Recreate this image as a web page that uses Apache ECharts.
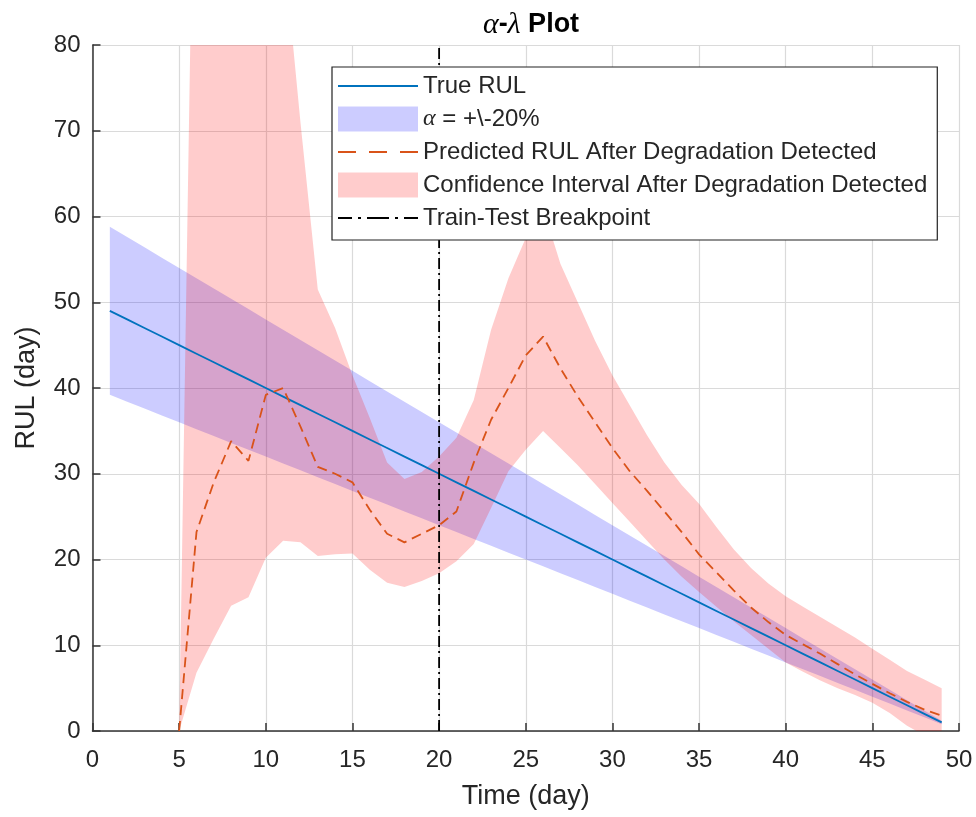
<!DOCTYPE html>
<html>
<head>
<meta charset="utf-8">
<script src="https://cdn.jsdelivr.net/npm/echarts@6/dist/echarts.min.js"></script>
<style>
html,body{margin:0;padding:0;background:#fff;}
#chart{width:976px;height:817px;}
</style>
</head>
<body>
<div id="chart"></div>
<script>
// ---- data ----
var trueDays = [1,2,3,4,5,6,7,8,9,10,11,12,13,14,15,16,17,18,19,20,21,22,23,24,25,26,27,28,29,30,31,32,33,34,35,36,37,38,39,40,41,42,43,44,45,46,47,48,49];
var trueRUL = [49,48,47,46,45,44,43,42,41,40,39,38,37,36,35,34,33,32,31,30,29,28,27,26,25,24,23,22,21,20,19,18,17,16,15,14,13,12,11,10,9,8,7,6,5,4,3,2,1];
var alphaUpper = [58.8,57.6,56.4,55.2,54,52.8,51.6,50.4,49.2,48,46.8,45.6,44.4,43.2,42,40.8,39.6,38.4,37.2,36,34.8,33.6,32.4,31.2,30,28.8,27.6,26.4,25.2,24,22.8,21.6,20.4,19.2,18,16.8,15.6,14.4,13.2,12,10.8,9.6,8.4,7.2,6,4.8,3.6,2.4,1.2];
var alphaLower = [39.2,38.4,37.6,36.8,36,35.2,34.4,33.6,32.8,32,31.2,30.4,29.6,28.8,28,27.2,26.4,25.6,24.8,24,23.2,22.4,21.6,20.8,20,19.2,18.4,17.6,16.8,16,15.2,14.4,13.6,12.8,12,11.2,10.4,9.6,8.8,8,7.2,6.4,5.6,4.8,4,3.2,2.4,1.6,0.8];

var predDays = [5,6,7,8,9,10,11,12,13,14,15,16,17,18,19,20,21,22,23,24,25,26,27,28,29,30,31,32,33,34,35,36,37,38,39,40,41,42,43,44,45,46,47,48,49];
var predRUL = [0,23.2,29,33.8,31.5,39.2,40,35.5,30.8,30,29,25.8,23,22,23,24,25.6,31.3,36.3,40,43.8,46,42.3,39,36,33,30.3,28,25.6,23.2,20.6,18.5,16.4,14.4,12.7,11.2,10.1,9,7.8,6.6,5.5,4.4,3.4,2.5,1.8];
var ciUpper = [0,125,150,155,145,120,92,71,51.5,47,41.5,36.5,31.3,29.4,30.2,32,34.2,38.6,46.8,52.8,57.5,61,54.5,50,45.5,41.5,38,34.5,31.3,28.7,26.5,23.8,21.2,19,17.2,15.7,14.5,13.3,12.1,10.9,9.6,8.3,7,6,5];
var ciLower = [0,6.8,10.8,14.6,15.6,20.2,22.2,22,20.4,20.6,20.7,18.8,17.3,16.8,17.5,18.4,19.8,21.8,26,30.3,32.8,35,33,31,28.8,26.6,24.4,22.2,20,18,16.2,14.5,12.8,11.2,9.6,8,6.9,5.9,5,4.2,3.3,2.1,0.6,-0.5,-1.2];

var breakpointDay = [20, 20];
var breakpointRange = [0, 80];

var xTicks = {min: 0, max: 50, step: 5};
var yTicks = {min: 0, max: 80, step: 10};

var nameTrue = 'True RUL';
var nameAlpha = 'α = +\\-20%';
var namePred = 'Predicted RUL After Degradation Detected';
var nameCI = 'Confidence Interval After Degradation Detected';
var nameBreak = 'Train-Test Breakpoint';

// ---- build ----
function zip(xs, ys){ return xs.map(function(x,i){ return [x, ys[i]]; }); }
function zip3(xs, a, b){ return xs.map(function(x,i){ return [x, a[i], b[i]]; }); }

// band polygon drawn through the axes' scales (api.coord)
function bandRenderer(xs, lo, hi, fill){
  return function(params, api){
    if (params.dataIndex !== 0) return null;
    var pts = [], i;
    for (i = 0; i < xs.length; i++) pts.push(api.coord([xs[i], hi[i]]));
    for (i = xs.length - 1; i >= 0; i--) pts.push(api.coord([xs[i], lo[i]]));
    var cs = params.coordSys;
    return {
      type: 'polygon',
      shape: {points: pts},
      style: {fill: fill, stroke: null},
      clipPath: {type: 'rect', shape: {x: cs.x, y: cs.y, width: cs.width, height: cs.height}}
    };
  };
}

var TXT = '#262626';
var FONT = 'Liberation Sans';
var BLUE_FILL = 'rgba(0,0,255,0.2)';
var RED_FILL = 'rgba(255,0,0,0.2)';

var iconSolid = 'path://M0,0H80V1.8H0Z';
var iconDash = 'path://M0,0H18V1.8H0Z M31,0H49V1.8H31Z M62,0H80V1.8H62Z';
var iconDashDot = 'path://M0,0H14V1.8H0Z M20,0H23V1.8H20Z M29,0H51V1.8H29Z M57,0H60V1.8H57Z M66,0H80V1.8H66Z';

var chart = echarts.init(document.getElementById('chart'), null, {renderer: 'canvas'});
chart.setOption({
  animation: false,
  backgroundColor: '#fff',
  title: {
    text: '{g|α}{b|-}{g|λ}{b| Plot}',
    left: 526, top: 5, textAlign: 'center',
    textStyle: {
      rich: {
        g: {fontFamily: 'Liberation Serif', fontStyle: 'italic', fontWeight: 'normal', fontSize: 30, color: '#000'},
        b: {fontFamily: FONT, fontWeight: 'bold', fontSize: 27, color: '#000'}
      }
    }
  },
  grid: {left: 92.5, right: 17, top: 45, bottom: 86, containLabel: false},
  xAxis: {
    type: 'value', min: xTicks.min, max: xTicks.max, interval: xTicks.step,
    name: 'Time (day)', nameLocation: 'middle', nameGap: 52,
    nameTextStyle: {fontFamily: FONT, fontSize: 27, color: TXT},
    axisLine: {show: true, onZero: false, lineStyle: {color: '#333', width: 1.5}},
    axisTick: {show: true, inside: true, length: 8, lineStyle: {color: '#333', width: 1.5}},
    axisLabel: {fontFamily: FONT, fontSize: 24, color: TXT, margin: 17},
    splitLine: {show: true, lineStyle: {color: '#dadada', width: 1.2}}
  },
  yAxis: {
    type: 'value', min: yTicks.min, max: yTicks.max, interval: yTicks.step,
    name: 'RUL (day)', nameLocation: 'middle', nameGap: 52, nameRotate: 90,
    nameTextStyle: {fontFamily: FONT, fontSize: 27, color: TXT},
    axisLine: {show: true, onZero: false, lineStyle: {color: '#333', width: 1.5}},
    axisTick: {show: true, inside: true, length: 8, lineStyle: {color: '#333', width: 1.5}},
    axisLabel: {fontFamily: FONT, fontSize: 24, color: TXT, margin: 12},
    splitLine: {show: true, lineStyle: {color: '#dadada', width: 1.2}}
  },
  legend: {
    orient: 'vertical', left: 332, top: 67,
    padding: [6.5, 10, 9.5, 6],
    itemGap: 8, itemWidth: 80, itemHeight: 25,
    symbolKeepAspect: true,
    backgroundColor: '#fff', borderColor: '#222', borderWidth: 1.2,
    selectedMode: false,
    textStyle: {
      fontFamily: FONT, fontSize: 24, color: TXT, lineHeight: 25,
      rich: {a: {fontFamily: 'Liberation Serif', fontStyle: 'italic', fontSize: 24, color: TXT, lineHeight: 25}}
    },
    formatter: function(n){ return n === nameAlpha ? '{a|α} = +\\-20%' : n; },
    data: [
      {name: nameTrue, icon: iconSolid, itemStyle: {color: '#0072BD', borderWidth: 0}},
      {name: nameAlpha, icon: 'rect', itemStyle: {color: BLUE_FILL, borderWidth: 0}},
      {name: namePred, icon: iconDash, itemStyle: {color: '#D95319', borderWidth: 0}},
      {name: nameCI, icon: 'rect', itemStyle: {color: RED_FILL, borderWidth: 0}},
      {name: nameBreak, icon: iconDashDot, itemStyle: {color: '#000', borderWidth: 0}}
    ]
  },
  series: [
    {
      name: nameTrue, type: 'line', data: zip(trueDays, trueRUL),
      symbol: 'none', color: '#0072BD',
      lineStyle: {color: '#0072BD', width: 1.8}
    },
    {
      name: nameAlpha, type: 'custom', color: BLUE_FILL,
      data: zip3(trueDays, alphaLower, alphaUpper),
      encode: {x: 0, y: [1, 2]},
      renderItem: bandRenderer(trueDays, alphaLower, alphaUpper, BLUE_FILL)
    },
    {
      name: namePred, type: 'line', data: zip(predDays, predRUL),
      symbol: 'none', color: '#D95319',
      lineStyle: {color: '#D95319', width: 1.8, type: [10, 6]}
    },
    {
      name: nameCI, type: 'custom', color: RED_FILL,
      data: zip3(predDays, ciLower, ciUpper),
      encode: {x: 0, y: [1, 2]},
      renderItem: bandRenderer(predDays, ciLower, ciUpper, RED_FILL)
    },
    {
      name: nameBreak, type: 'line', data: zip(breakpointDay, breakpointRange),
      symbol: 'none', color: '#000',
      lineStyle: {color: '#000', width: 1.8, type: [11, 4, 2, 4]}
    }
  ]
});
</script>
</body>
</html>
